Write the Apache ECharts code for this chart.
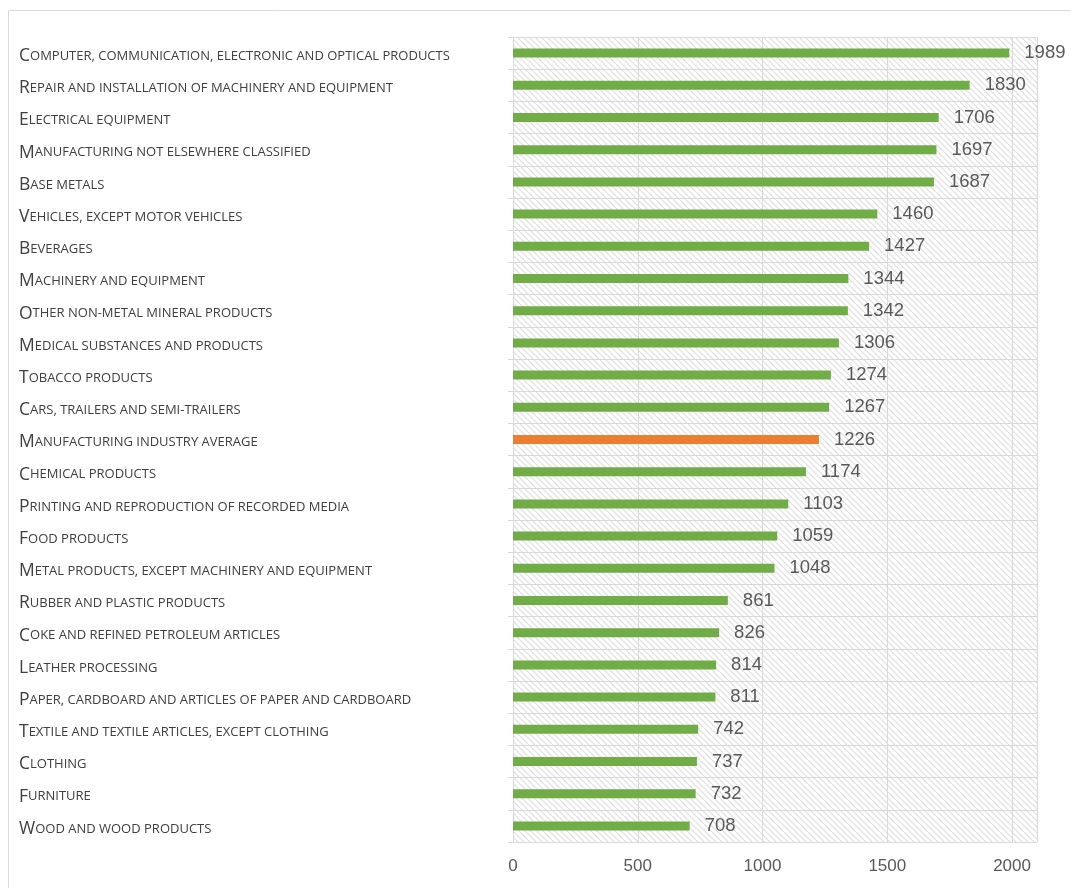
<!DOCTYPE html>
<html>
<head>
<meta charset="utf-8">
<script src="https://cdn.jsdelivr.net/npm/echarts@6/dist/echarts.min.js"></script>
<style>
html,body{margin:0;padding:0;background:#fff;}
#chart{width:1071px;height:888px;}
</style>
</head>
<body>
<div id="chart"></div>
<script>
const categories = [
  "Computer, communication, electronic and optical products",
  "Repair and installation of machinery and equipment",
  "Electrical equipment",
  "Manufacturing not elsewhere classified",
  "Base metals",
  "Vehicles, except motor vehicles",
  "Beverages",
  "Machinery and equipment",
  "Other non-metal mineral products",
  "Medical substances and products",
  "Tobacco products",
  "Cars, trailers and semi-trailers",
  "Manufacturing industry average",
  "Chemical products",
  "Printing and reproduction of recorded media",
  "Food products",
  "Metal products, except machinery and equipment",
  "Rubber and plastic products",
  "Coke and refined petroleum articles",
  "Leather processing",
  "Paper, cardboard and articles of paper and cardboard",
  "Textile and textile articles, except clothing",
  "Clothing",
  "Furniture",
  "Wood and wood products"
];
const values = [1989,1830,1706,1697,1687,1460,1427,1344,1342,1306,1274,1267,1226,1174,1103,1059,1048,861,826,814,811,742,737,732,708];
const highlightCategory = "Manufacturing industry average";
const xTicks = [0,500,1000,1500,2000];

const GREEN = '#70AD47', ORANGE = '#ED7D31';

// hatch pattern
const P = 6;
const pc = document.createElement('canvas');
pc.width = P; pc.height = P;
const pctx = pc.getContext('2d');
pctx.fillStyle = '#ffffff'; pctx.fillRect(0,0,P,P);
pctx.strokeStyle = '#dedede'; pctx.lineWidth = 1.2;
pctx.beginPath();
pctx.moveTo(-2,-2); pctx.lineTo(P+2,P+2);
pctx.moveTo(-P-2,-2); pctx.lineTo(2,P+2);
pctx.moveTo(P-2,-2); pctx.lineTo(2*P+2,P+2);
pctx.stroke();

const chart = echarts.init(document.getElementById('chart'), null, {renderer:'canvas'});
chart.setOption({
  animation:false,
  backgroundColor:'#ffffff',
  graphic:[{
    type:'rect', silent:true,
    shape:{x:8.5,y:10.5,width:1080,height:900},
    style:{fill:'none',stroke:'#d9d9d9',lineWidth:1}
  }],
  grid:{
    left:513, right:34, top:37, bottom:46,
    show:true, backgroundColor:{image:pc, repeat:'repeat'}, borderWidth:0
  },
  xAxis:{
    type:'value', min:0, max:2100, interval:500,
    axisLine:{show:false}, axisTick:{show:false},
    splitLine:{show:true, lineStyle:{color:'#d9d9d9', width:1}},
    axisLabel:{
      showMaxLabel:false, margin:16,
      color:'#595959', fontSize:17, fontFamily:'Liberation Sans',
      formatter:function(v){ return xTicks.indexOf(v) >= 0 ? String(v) : ''; }
    }
  },
  yAxis:{
    type:'category', data:categories, inverse:true,
    axisLine:{show:true, lineStyle:{color:'#d9d9d9'}},
    axisTick:{show:true, length:5, lineStyle:{color:'#d9d9d9'}},
    splitLine:{show:true, lineStyle:{color:'#d9d9d9', width:1}},
    axisLabel:{
      align:'left', margin:494, padding:[6,0,0,0],
      formatter:function(v){
        return '{a|' + v.charAt(0).toUpperCase() + '}{b|' + v.slice(1).toUpperCase() + '}';
      },
      rich:{
        a:{fontSize:17.5, color:'#404040', fontFamily:'Open Sans'},
        b:{fontSize:13, color:'#404040', fontFamily:'Open Sans'}
      }
    }
  },
  series:[{
    type:'bar', barWidth:9,
    data: values.map(function(v,i){
      return {value:v, itemStyle:{color: categories[i]===highlightCategory ? ORANGE : GREEN}};
    }),
    label:{
      show:true, position:'right', distance:15,
      color:'#595959', fontSize:18.5, fontFamily:'Liberation Sans'
    }
  }]
});
</script>
</body>
</html>
